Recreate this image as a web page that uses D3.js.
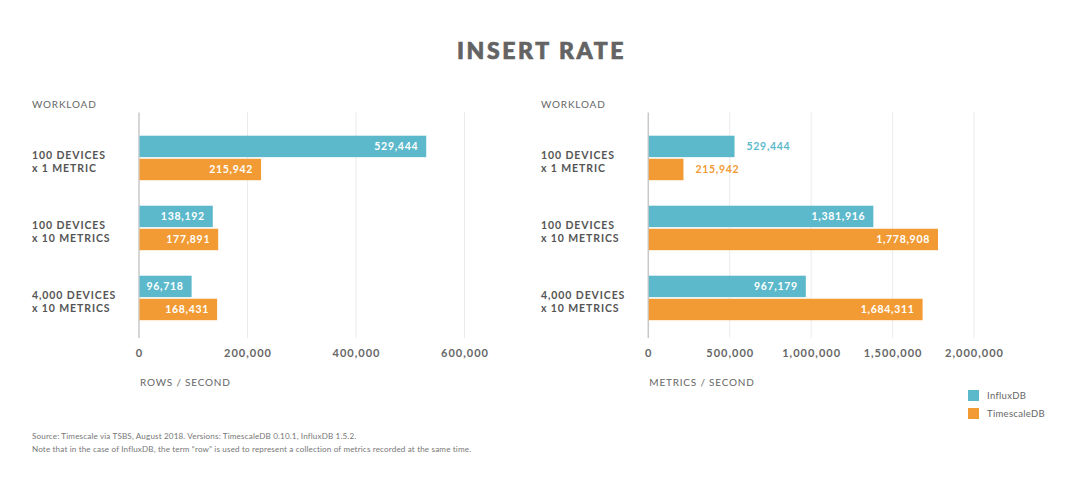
<!DOCTYPE html>
<html>
<head>
<meta charset="utf-8">
<script src="https://cdn.jsdelivr.net/npm/d3@7"></script>
<style>
  html, body { margin: 0; padding: 0; background: #fff; }
  svg { display: block; font-family: Lato, "Open Sans", sans-serif; }
</style>
</head>
<body>
<svg id="chart" width="1080" height="484"></svg>
<script>
const categories = [["100 DEVICES", "x 1 METRIC"], ["100 DEVICES", "x 10 METRICS"], ["4,000 DEVICES", "x 10 METRICS"]];
const seriesNames = ["InfluxDB", "TimescaleDB"];
// printed value labels
const rowsInflux = [529444, 138192, 96718];
const rowsTimescale = [215942, 177891, 168431];
// bar lengths as drawn in the reference (left panel orange bars are drawn shorter than labelled)
const rowsInfluxBar = [529444, 136000, 97000];
const rowsTimescaleBar = [225000, 146000, 144000];
const metricsInflux = [529444, 1381916, 967179];
const metricsTimescale = [215942, 1778908, 1684311];
const rowsTicks = [0, 200000, 400000, 600000];
const metricsTicks = [0, 500000, 1000000, 1500000, 2000000];
const title = "INSERT RATE";
const footnotes = [
  "Source: Timescale via TSBS, August 2018. Versions: TimescaleDB 0.10.1, InfluxDB 1.5.2.",
  "Note that in the case of InfluxDB, the term \u201crow\u201d is used to represent a collection of metrics recorded at the same time."
];

const colors = { InfluxDB: "#5cb9cc", TimescaleDB: "#f29b34" };
const svg = d3.select("#chart");
const fmt = d3.format(",");

svg.append("text").attr("x", 541.5).attr("y", 58.5).attr("text-anchor", "middle")
  .attr("font-size", 23).attr("font-weight", 900).attr("letter-spacing", 2.6)
  .attr("fill", "#636363").attr("stroke", "#636363").attr("stroke-width", 0.7).text(title);

const catKeys = categories.map((c, i) => "c" + i);
const y = d3.scaleBand().domain(catKeys).range([124, 334]).padding(0);
const yInner = d3.scaleBand().domain(seriesNames).range([11.7, 56.2]).paddingInner(0.07);

function panel(opts) {
  const { labelX, x0, x1, domainMax, ticks, influx, timescale, influxBar, timescaleBar, unit, insideMin } = opts;
  const g = svg.append("g");
  const x = d3.scaleLinear().domain([0, domainMax]).range([x0, x1]);

  g.append("text").attr("x", labelX).attr("y", 108).attr("font-size", 10)
    .attr("letter-spacing", 0.8).attr("fill", "#666").text("WORKLOAD");

  g.selectAll("line.grid").data(ticks).join("line")
    .attr("x1", d => x(d)).attr("x2", d => x(d))
    .attr("y1", 112.5).attr("y2", 338)
    .attr("stroke", d => d === 0 ? "#c8c8c8" : "#ebebeb").attr("stroke-width", d => d === 0 ? 1.5 : 1);

  g.selectAll("text.tick").data(ticks).join("text")
    .attr("x", d => x(d) + 0.5).attr("y", 356.5).attr("text-anchor", "middle")
    .attr("font-size", 11).attr("font-weight", 700).attr("letter-spacing", 1)
    .attr("fill", "#666").text(d => fmt(d));

  g.append("text").attr("x", x0 + 1).attr("y", 385.5).attr("font-size", 10)
    .attr("letter-spacing", 0.8).attr("fill", "#666").text(unit);

  categories.forEach((c, i) => {
    const cy = y(catKeys[i]) + y.bandwidth() / 2;
    c.forEach((line, j) => {
      g.append("text").attr("x", labelX).attr("y", cy - 3.5 + j * 12.8 + 3.8)
        .attr("font-size", 10.5).attr("font-weight", 700).attr("letter-spacing", 0.9)
        .attr("fill", "#555").text(line);
    });
  });

  const rows = [];
  catKeys.forEach((k, i) => {
    rows.push({ k, s: "InfluxDB", v: influx[i], b: influxBar[i] });
    rows.push({ k, s: "TimescaleDB", v: timescale[i], b: timescaleBar[i] });
  });

  g.selectAll("rect.bar").data(rows).join("rect")
    .attr("x", x(0) + 0.5).attr("y", d => y(d.k) + yInner(d.s))
    .attr("width", d => x(d.b) - x(0) - 0.5).attr("height", yInner.bandwidth())
    .attr("fill", d => colors[d.s]);

  g.selectAll("text.val").data(rows).join("text")
    .each(function (d) {
      const w = x(d.b) - x(0);
      const inside = w >= insideMin;
      d3.select(this)
        .attr("x", inside ? x(d.b) - 8 : x(d.b) + 12)
        .attr("text-anchor", inside ? "end" : "start")
        .attr("fill", inside ? "#fff" : colors[d.s]);
    })
    .attr("y", d => y(d.k) + yInner(d.s) + yInner.bandwidth() / 2 + 3.8)
    .attr("font-size", 10.5).attr("font-weight", 700).attr("letter-spacing", 0.7)
    .text(d => fmt(d.v));
}

panel({ labelX: 32, x0: 139, x1: 464.5, domainMax: 600000, ticks: rowsTicks,
  influx: rowsInflux, timescale: rowsTimescale, influxBar: rowsInfluxBar, timescaleBar: rowsTimescaleBar,
  unit: "ROWS / SECOND", insideMin: 40 });
panel({ labelX: 541, x0: 648.3, x1: 974, domainMax: 2000000, ticks: metricsTicks,
  influx: metricsInflux, timescale: metricsTimescale, influxBar: metricsInflux, timescaleBar: metricsTimescale,
  unit: "METRICS / SECOND", insideMin: 120 });

const lg = svg.append("g");
seriesNames.forEach((s, i) => {
  lg.append("rect").attr("x", 968).attr("y", 390 + i * 18).attr("width", 11).attr("height", 11)
    .attr("fill", colors[s]);
  lg.append("text").attr("x", 987).attr("y", 399 + i * 18).attr("font-size", 9.5)
    .attr("letter-spacing", 0.3).attr("fill", "#666").text(s);
});

footnotes.forEach((t, i) => {
  svg.append("text").attr("x", 32).attr("y", 438.5 + i * 13.8).attr("font-size", 8.1)
    .attr("letter-spacing", 0.15).attr("fill", "#777").text(t);
});
</script>
</body>
</html>
